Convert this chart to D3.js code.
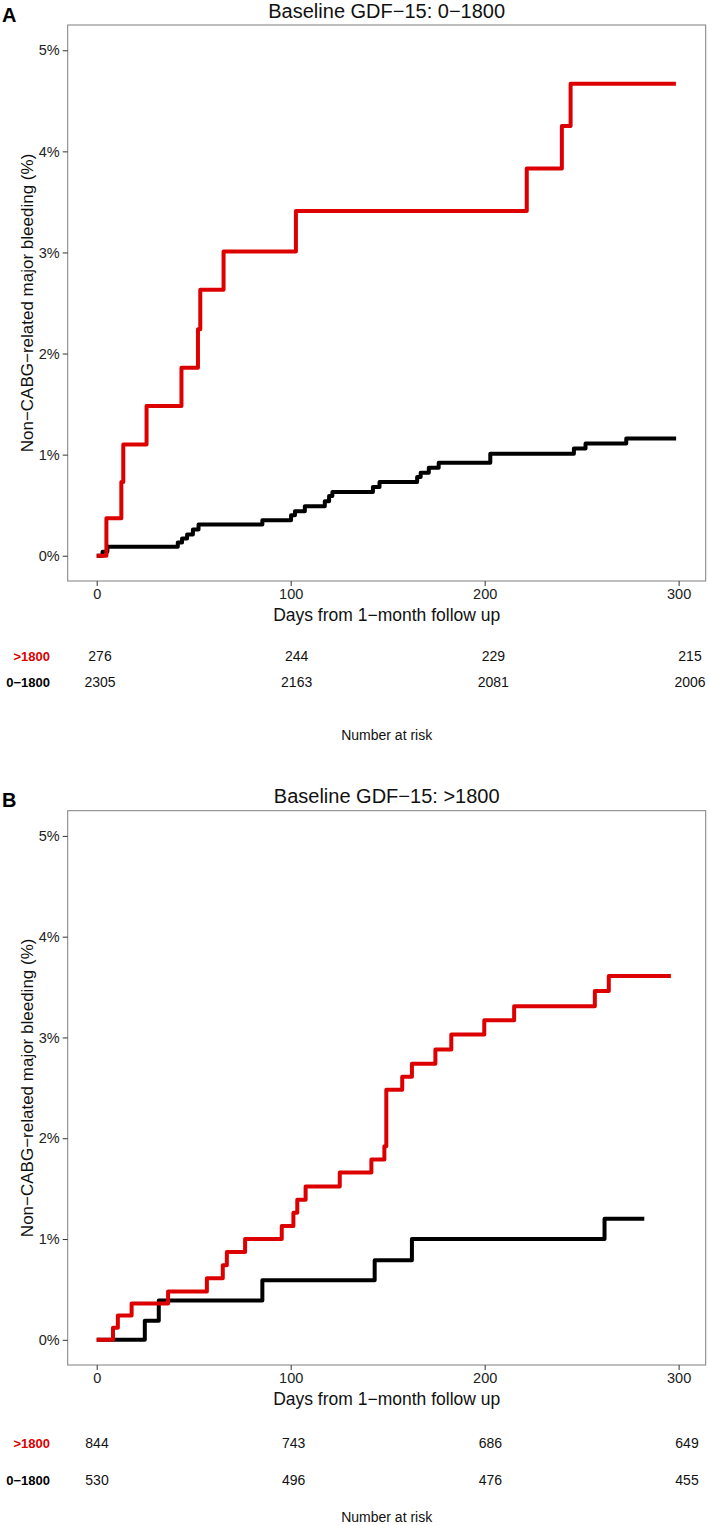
<!DOCTYPE html>
<html>
<head>
<meta charset="utf-8">
<script src="https://cdn.jsdelivr.net/npm/d3@7"></script>
<style>
  html, body { margin: 0; padding: 0; background: #fff; }
  svg { display: block; font-family: "Liberation Sans", Arial, Helvetica, sans-serif; }
</style>
</head>
<body>
<svg id="chart" width="709" height="1525"></svg>
<script>
// ---------------- data ----------------
const panelLetters = ["A", "B"];
const panelTitles = ["Baseline GDF\u221215: 0\u22121800", "Baseline GDF\u221215: >1800"];
const groupLabels = [">1800", "0\u22121800"];
const xTicks = [0, 100, 200, 300];
const yTicks = [0, 1, 2, 3, 4, 5];
const riskTimes = [0, 100, 200, 300];

// Panel A (baseline GDF-15 0-1800): [day, cumulative %]
const aHighDays = [0, 5, 12.7, 13.7, 25.7, 43.7, 52.2, 53.4, 65.4, 102.7, 221.7, 239.8, 244.3, 298.6];
const aHighPct  = [0, 0.37, 0.73, 1.10, 1.48, 1.86, 2.24, 2.63, 3.01, 3.41, 3.83, 4.25, 4.67, 4.67];
const aLowDays  = [0, 3, 5.5, 41.8, 44, 46.6, 49.6, 52.5, 85.4, 100.2, 102.2, 107.3, 117.6, 119.8, 121.5, 142.4, 145.8, 165.2, 167, 171.2, 176.3, 202.9, 246, 252, 273, 298.7];
const aLowPct   = [0, 0.04, 0.09, 0.13, 0.17, 0.21, 0.26, 0.31, 0.35, 0.40, 0.44, 0.49, 0.54, 0.59, 0.63, 0.68, 0.73, 0.78, 0.82, 0.87, 0.92, 1.01, 1.06, 1.11, 1.16, 1.16];

// Panel B (baseline GDF-15 >1800)
const bHighDays = [0, 8.4, 10.9, 18, 36.8, 56.8, 65, 67.1, 76.5, 95.4, 101.4, 103.4, 107.7, 125.3, 141.6, 148.3, 149.3, 157.5, 162.5, 174.6, 182.8, 199.8, 215.2, 256.8, 264, 296];
const bHighPct  = [0, 0.12, 0.24, 0.36, 0.48, 0.61, 0.74, 0.87, 1.00, 1.13, 1.26, 1.39, 1.52, 1.66, 1.79, 1.92, 2.48, 2.61, 2.74, 2.88, 3.03, 3.17, 3.31, 3.46, 3.61, 3.61];
const bLowDays  = [0, 24.8, 32, 85.4, 143.3, 162.5, 261.8, 282.3];
const bLowPct   = [0, 0.19, 0.39, 0.59, 0.79, 1.00, 1.20, 1.20];

// Numbers at risk
const aRiskHigh = [276, 244, 229, 215];
const aRiskLow  = [2305, 2163, 2081, 2006];
const bRiskHigh = [844, 743, 686, 649];
const bRiskLow  = [530, 496, 476, 455];

// ---------------- drawing ----------------
const RED = "#dd0000", BLACK = "#000000";
const svg = d3.select("#chart");

const panels = [
  { letter: panelLetters[0], title: panelTitles[0], top: 25, bottom: 581,
    high: d3.zip(aHighDays, aHighPct), low: d3.zip(aLowDays, aLowPct),
    riskHigh: aRiskHigh, riskLow: aRiskLow,
    rx: [100, 690], rowY: [656, 682], narY: 735, letterY: 15, titleY: 11 },
  { letter: panelLetters[1], title: panelTitles[1], top: 810.7, bottom: 1365,
    high: d3.zip(bHighDays, bHighPct), low: d3.zip(bLowDays, bLowPct),
    riskHigh: bRiskHigh, riskLow: bRiskLow,
    rx: [97, 687], rowY: [1443, 1480], narY: 1517, letterY: 800, titleY: 796 }
];

const left = 67.7, right = 705.7;

panels.forEach(p => {
  const g = svg.append("g");
  const x = d3.scaleLinear().domain([-14.95, 313.95]).range([left, right]);
  const y = d3.scaleLinear().domain([-0.25, 5.25]).range([p.bottom, p.top]);

  // panel border
  g.append("rect")
    .attr("x", left).attr("y", p.top)
    .attr("width", right - left).attr("height", p.bottom - p.top)
    .attr("fill", "none").attr("stroke", "#7f7f7f").attr("stroke-width", 1);

  // axes
  const yAxis = d3.axisLeft(y).tickValues(yTicks).tickFormat(d => d + "%").tickSize(5).tickPadding(3);
  const ya = g.append("g").attr("transform", `translate(${left},0)`).call(yAxis);
  ya.select(".domain").remove();
  ya.selectAll("line").attr("stroke", "#333");
  ya.selectAll("text").attr("font-size", 14.5).attr("fill", "#222")
    .attr("font-family", "Liberation Sans, Arial, sans-serif");

  const xAxis = d3.axisBottom(x).tickValues(xTicks).tickSize(5).tickPadding(3);
  const xa = g.append("g").attr("transform", `translate(0,${p.bottom})`).call(xAxis);
  xa.select(".domain").remove();
  xa.selectAll("line").attr("stroke", "#333");
  xa.selectAll("text").attr("font-size", 14.5).attr("fill", "#222")
    .attr("font-family", "Liberation Sans, Arial, sans-serif");

  // axis titles
  g.append("text")
    .attr("x", (left + right) / 2).attr("y", p.bottom + 34)
    .attr("text-anchor", "middle").attr("dominant-baseline", "central")
    .attr("font-size", 17.5).attr("fill", "#111")
    .text("Days from 1\u2212month follow up");

  g.append("text")
    .attr("transform", `translate(27,${(p.top + p.bottom) / 2}) rotate(-90)`)
    .attr("text-anchor", "middle").attr("dominant-baseline", "central")
    .attr("font-size", 17).attr("fill", "#111")
    .text("Non\u2212CABG\u2212related major bleeding (%)");

  // title and panel letter
  g.append("text")
    .attr("x", (left + right) / 2).attr("y", p.titleY)
    .attr("text-anchor", "middle").attr("dominant-baseline", "central")
    .attr("font-size", 20).attr("fill", "#111")
    .text(p.title);
  g.append("text")
    .attr("x", 2).attr("y", p.letterY)
    .attr("dominant-baseline", "central")
    .attr("font-size", 20).attr("font-weight", "bold").attr("fill", "#000")
    .text(p.letter);

  // curves
  const line = d3.line().curve(d3.curveStepAfter)
    .x(d => x(d[0])).y(d => y(d[1]));
  g.append("path").datum(p.low)
    .attr("d", line).attr("fill", "none").attr("stroke", BLACK)
    .attr("stroke-width", 4).attr("stroke-linejoin", "round");
  g.append("path").datum(p.high)
    .attr("d", line).attr("fill", "none").attr("stroke", RED)
    .attr("stroke-width", 4).attr("stroke-linejoin", "round");

  // risk table
  const rx = d3.scaleLinear().domain([0, 300]).range(p.rx);
  const rows = [
    { label: groupLabels[0], vals: p.riskHigh, color: RED, y: p.rowY[0] },
    { label: groupLabels[1], vals: p.riskLow, color: BLACK, y: p.rowY[1] }
  ];
  rows.forEach(r => {
    g.append("text")
      .attr("x", 50).attr("y", r.y)
      .attr("text-anchor", "end").attr("dominant-baseline", "central")
      .attr("font-size", 13).attr("font-weight", "bold").attr("fill", r.color)
      .text(r.label);
    g.selectAll(null).data(riskTimes).enter().append("text")
      .attr("x", d => rx(d)).attr("y", r.y)
      .attr("text-anchor", "middle").attr("dominant-baseline", "central")
      .attr("font-size", 14).attr("fill", "#111")
      .text((d, i) => r.vals[i]);
  });
  g.append("text")
    .attr("x", (left + right) / 2).attr("y", p.narY)
    .attr("text-anchor", "middle").attr("dominant-baseline", "central")
    .attr("font-size", 14).attr("fill", "#111")
    .text("Number at risk");
});
</script>
</body>
</html>
